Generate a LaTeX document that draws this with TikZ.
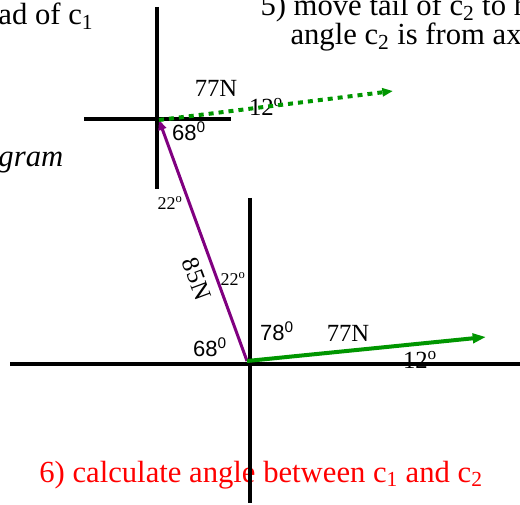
\documentclass[tikz,border=0pt]{standalone}
\usepackage{fontspec}
\setmainfont{Liberation Serif}
\setsansfont{Liberation Sans}
\usetikzlibrary{arrows.meta}

\definecolor{vecgreen}{RGB}{0,150,0}
\definecolor{vecpurple}{RGB}{128,0,128}
\definecolor{notered}{RGB}{255,0,0}

\tikzset{every picture/.style={line width=0.75pt}}
\tikzset{
  axisline/.style={line width=3pt},
  vecc1/.style={vecpurple, line width=2.25pt, -{Triangle[length=7.5pt,width=6pt]}},
  vecc2/.style={vecgreen, line width=3pt, -{Triangle[length=10pt,width=7pt]}},
  vecmoved/.style={vecgreen, line width=3pt, dash pattern=on 3.75pt off 3.75pt, -{Triangle[length=8pt,width=6pt]}},
  slidetext/.style={inner sep=0pt, font=\fontsize{23}{27}\selectfont},
  lbl/.style={inner sep=0.75pt, font=\fontsize{18.5}{20}\selectfont},
  smalllbl/.style={inner sep=0.75pt, font=\fontsize{13.5}{15}\selectfont},
  anglbl/.style={inner sep=0.75pt, font=\sffamily\fontsize{16.5}{18}\selectfont},
}

\begin{document}
\begin{tikzpicture}[x=0.75pt,y=0.75pt,yscale=-1,xscale=1]
\useasboundingbox (0,0) rectangle (520,505);
\clip (0,0) rectangle (520,505);

% Text Node
\node (step4) [slidetext, anchor=base west] at (-2,25) {ad of c\textsubscript{1}};
% Text Node
\node (diag) [slidetext, anchor=base west] at (-2,167) {\itshape gram};
% Text Node
\node (step5a) [slidetext, anchor=base west] at (260,16) {5) move tail of c\textsubscript{2} to h};
% Text Node
\node (step5b) [slidetext, anchor=base west] at (290,45) {angle c\textsubscript{2} is from ax};
% Text Node
\node (step6) [slidetext, anchor=base, text=notered] at (261,482) {6) calculate angle between c\textsubscript{1} and c\textsubscript{2}};

% Labels upper axes
\node (magtop) [lbl] at (216,88) {77N};
\node (angtop) [lbl] at (266,107) {12\textsuperscript{o}};
\node (a68top) [anglbl] at (189,131) {68\textsuperscript{0}};
\node (a22top) [smalllbl] at (170,203) {22\textsuperscript{o}};

% Labels lower axes
\node (mag85) [lbl, rotate=-69.5] at (197,279) {85N};
\node (a22low) [smalllbl] at (233,279) {22\textsuperscript{o}};
\node (a78) [anglbl] at (277,331) {78\textsuperscript{0}};
\node (a68low) [anglbl] at (210,347) {68\textsuperscript{0}};
\node (maglow) [lbl] at (348,333) {77N};
\node (anglow) [lbl] at (420,360) {12\textsuperscript{o}};

% Axes
\coordinate (xlowL) at (10,364);
\coordinate (xlowR) at (525,364);
\coordinate (ylowT) at (250,198);
\coordinate (ylowB) at (250,503);
\coordinate (xtopL) at (84,119);
\coordinate (xtopR) at (231,119);
\coordinate (ytopT) at (157,7);
\coordinate (ytopB) at (157,189);
\draw [axisline] (xlowL) -- (xlowR);
\draw [axisline] (ylowT) -- (ylowB);
\draw [axisline] (xtopL) -- (xtopR);
\draw [axisline] (ytopT) -- (ytopB);

% Vectors
\coordinate (O) at (247,361);
\coordinate (P) at (159,120);
\coordinate (Q) at (486,337);
\coordinate (R) at (393,91);
\draw [vecc1] (O) -- (P);
\draw [vecc2] (O) -- (Q);
\draw [vecmoved] (P) -- (R);

\end{tikzpicture}
\end{document}
